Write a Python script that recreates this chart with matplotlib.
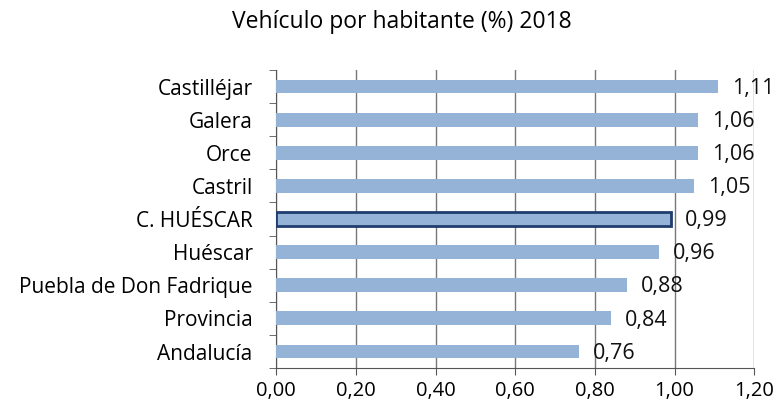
import numpy as np
import matplotlib.pyplot as plt

# Vehicles per inhabitant, 2018
municipios = ["Castilléjar", "Galera", "Orce", "Castril", "C. HUÉSCAR",
              "Huéscar", "Puebla de Don Fadrique", "Provincia", "Andalucía"]
valores = [1.11, 1.06, 1.06, 1.05, 0.99, 0.96, 0.88, 0.84, 0.76]
destacado = "C. HUÉSCAR"
xticks = [0.0, 0.2, 0.4, 0.6, 0.8, 1.0, 1.2]

plt.rcParams['font.family'] = ['Open Sans', 'DejaVu Sans']

fig = plt.figure(figsize=(7.8, 4.09), dpi=100)
ax = fig.add_axes([0.354, 0.1, 0.613, 0.729])

y = np.arange(len(municipios))
for i, (name, v) in enumerate(zip(municipios, valores)):
    if name == destacado:
        ax.barh(i, v, height=0.42, color='#95b3d7', edgecolor='#1f3d6e',
                linewidth=2, zorder=3)
    else:
        ax.barh(i, v, height=0.42, color='#95b3d7', edgecolor='none', zorder=3)
    ax.text(v + 0.035, i + 0.05, f"{v:.2f}".replace('.', ','), va='center',
            ha='left', fontsize=15.5, color='#111111', zorder=4)

ax.set_ylim(len(municipios) - 0.5, -0.5)
ax.set_xlim(0, 1.2)
ax.set_xticks(xticks)
ax.set_xticklabels([f"{t:.2f}".replace('.', ',') for t in xticks], fontsize=14.5)
ax.set_yticks(y)
ax.set_yticklabels(municipios, fontsize=15)
ax.tick_params(axis='y', length=0, pad=17)
ax.set_yticks(np.arange(-0.5, len(municipios)), minor=True)
ax.tick_params(axis='y', which='minor', length=5, color='#555555')
ax.tick_params(axis='x', length=5, color='#555555', pad=4)

ax.grid(axis='x', color='#777777', linewidth=1, zorder=0)
ax.set_axisbelow(True)
for s in ['top', 'right']:
    ax.spines[s].set_visible(False)
for s in ['left', 'bottom']:
    ax.spines[s].set_color('#555555')

fig.text(0.515, 0.945, "Vehículo por habitante (%) 2018", ha='center',
         va='center', fontsize=16.5)

fig.savefig("out.png", dpi=100)
